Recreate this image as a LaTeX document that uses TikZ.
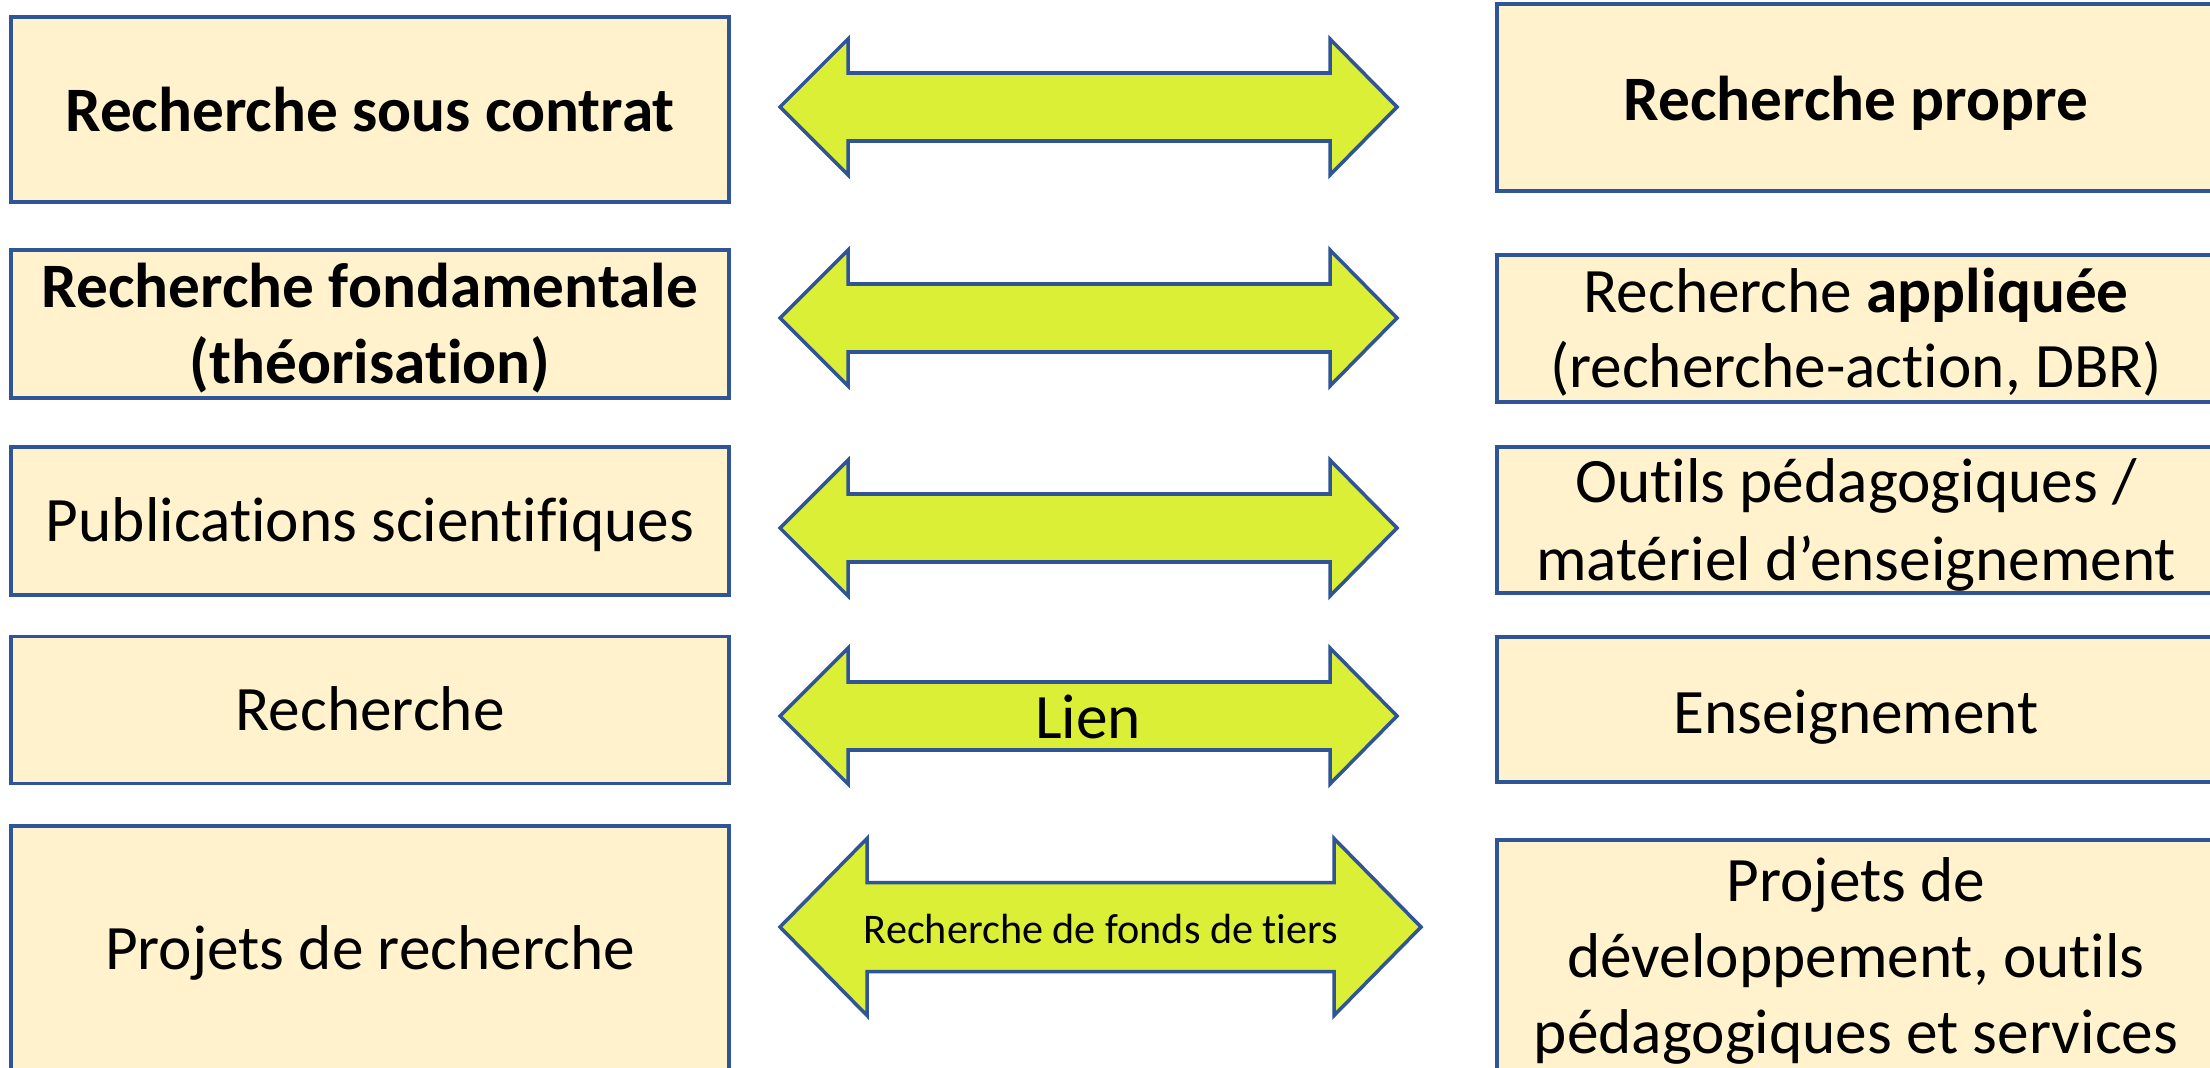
\documentclass[tikz,border=0pt]{standalone}
\usepackage{fontspec}
\setmainfont{Carlito}[Ligatures={NoCommon}]
\definecolor{boxfill}{HTML}{FFF2CC}
\definecolor{edgeblue}{HTML}{2F5597}
\definecolor{arrowfill}{HTML}{DCEF37}
\tikzset{
  rbox/.style={draw=edgeblue, line width=1pt, fill=boxfill, rectangle, inner sep=0pt},
  btxt/.style={inner sep=0pt, align=center, text=black, font=\fontsize{18}{21.5}\selectfont},
  arrowshp/.style={draw=edgeblue, line width=1pt, fill=arrowfill, line join=miter},
  lbl/.style={inner sep=0pt, text=black},
}
% #1 left tip x, #2 shaft start x, #3 right head start x, #4 right tip x, #5 center y, #6 head half, #7 shaft half
\newcommand\dblarrow[7]{%
  \draw[arrowshp] (#1,#5) -- (#2,#5-#6) -- (#2,#5-#7) -- (#3,#5-#7) -- (#3,#5-#6)
    -- (#4,#5) -- (#3,#5+#6) -- (#3,#5+#7) -- (#2,#5+#7) -- (#2,#5+#6) -- cycle;}
\begin{document}
\begin{tikzpicture}[x=0.01cm, y=-0.01cm]
\useasboundingbox (0,0) rectangle (2210,1067);
\clip (0,0) rectangle (2210,1067);
\fill[white] (0,0) rectangle (2210,1067);

% left column boxes
\node[rbox, minimum width=7.18cm, minimum height=1.85cm] (l1) at (370,109.5) {};
\node[rbox, minimum width=7.18cm, minimum height=1.48cm] (l2) at (370,324) {};
\node[rbox, minimum width=7.18cm, minimum height=1.48cm] (l3) at (370,521) {};
\node[rbox, minimum width=7.18cm, minimum height=1.47cm] (l4) at (370,710) {};
\node[rbox, minimum width=7.18cm, minimum height=2.50cm] (l5) at (370,951) {};

% right column boxes
\node[rbox, minimum width=7.22cm, minimum height=1.87cm] (r1) at (1858,97.5) {};
\node[rbox, minimum width=7.22cm, minimum height=1.47cm] (r2) at (1858,328.5) {};
\node[rbox, minimum width=7.22cm, minimum height=1.46cm] (r3) at (1858,520) {};
\node[rbox, minimum width=7.22cm, minimum height=1.45cm] (r4) at (1858,709.5) {};
\node[rbox, minimum width=7.22cm, minimum height=2.50cm] (r5) at (1858,965) {};

% texts
\node[btxt] (l1t) at (370,109.5) {\bfseries Recherche sous contrat};
\node[btxt] (l2t) at (370,328) {\bfseries Recherche fondamentale\\\bfseries (théorisation)};
\node[btxt] (l3t) at (370,525) {Publications scientifiques};
\node[btxt] (l4t) at (370,709) {Recherche};
\node[btxt] (l5t) at (370,953) {Projets de recherche};
\node[btxt] (r1t) at (1856,103) {\bfseries Recherche propre};
\node[btxt] (r2t) at (1856,332) {Recherche \textbf{appliquée}\\(recherche-action, DBR)};
\node[btxt, font=\fontsize{18}{22.2}\selectfont] (r3t) at (1856,525) {Outils pédagogiques /\\matériel d’enseignement};
\node[btxt] (r4t) at (1856,717) {Enseignement};
\node[btxt] (r5t) at (1856,961) {Projets de\\développement, outils\\pédagogiques et services};

% double arrows
\dblarrow{780}{848}{1330}{1397}{107}{68}{34}
\dblarrow{780}{848}{1330}{1397}{318}{68}{34}
\dblarrow{780}{848}{1330}{1397}{528}{68}{34}
\dblarrow{780}{848}{1330}{1397}{716}{68}{34}
\dblarrow{780}{867}{1334}{1421}{927}{88.5}{44.5}

\node[lbl, font=\fontsize{18}{21.5}\selectfont] (lien) at (1088,717) {Lien};
\node[lbl, font=\fontsize{12}{14}\selectfont] (tiers) at (1101,929) {Recherche de fonds de tiers};
\end{tikzpicture}
\end{document}
